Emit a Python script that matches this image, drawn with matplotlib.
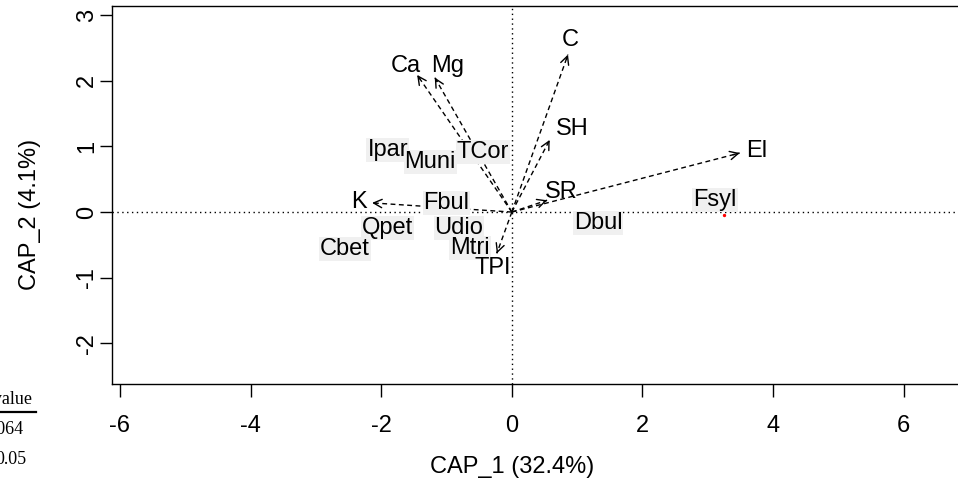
import matplotlib
matplotlib.use("Agg")
import matplotlib.pyplot as plt

plt.rcParams['font.family'] = ['Liberation Sans', 'DejaVu Sans']

# environmental vectors (arrow tips) and their label positions
env_names = ["Ca", "Mg", "C", "SH", "El", "SR", "K", "TPI"]
env_x = [-1.45, -1.18, 0.86, 0.58, 3.49, 0.54, -2.14, -0.23]
env_y = [2.09, 2.05, 2.40, 1.10, 0.90, 0.18, 0.14, -0.63]
env_lab_x = [-1.63, -0.98, 0.90, 0.92, 3.75, 0.76, -2.34, -0.29]
env_lab_y = [2.22, 2.22, 2.62, 1.27, 0.93, 0.30, 0.16, -0.86]

# species labels (drawn with grey background, on top of the arrows)
sp_names = ["Ipar", "Muni", "TCor", "Fbul", "Qpet", "Udio", "Mtri", "Cbet", "Dbul", "Fsyl"]
sp_x = [-1.90, -1.25, -0.44, -1.00, -1.90, -0.81, -0.64, -2.56, 1.32, 3.11]
sp_y = [0.95, 0.76, 0.92, 0.14, -0.24, -0.24, -0.55, -0.56, -0.17, 0.18]

# a site point peeking out from under a label
site_x = [3.25]
site_y = [-0.04]

x_ticks = [-6, -4, -2, 0, 2, 4, 6]
y_ticks = [-2, -1, 0, 1, 2, 3]

fig = plt.figure(figsize=(9.58, 4.88), dpi=100)
W, H = 958.0, 488.0
ax = fig.add_axes([112 / W, 1 - 384 / H, (969 - 112) / W, (384 - 6) / H])
ax.set_xlim(-6.122, 7.0)
ax.set_ylim(-2.62, 3.14)

# reference lines through origin
ax.axhline(0, color='black', lw=1.0, ls=(0, (1, 2.5)), zorder=1)
ax.axvline(0, color='black', lw=1.0, ls=(0, (1, 2.5)), zorder=1)

ax.scatter(site_x, site_y, s=2, color='red', zorder=2)

# env arrows: dashed shaft + small solid head
for name, x, y, lx, ly in zip(env_names, env_x, env_y, env_lab_x, env_lab_y):
    ax.plot([0, x], [0, y], color='black', lw=1.0, ls=(0, (3.5, 2.5)), zorder=3)
    ax.annotate('', xy=(x, y), xytext=(x * 0.97, y * 0.97),
                arrowprops=dict(arrowstyle='->,head_length=0.6,head_width=0.3',
                                color='black', lw=1.0, shrinkA=0, shrinkB=0),
                zorder=3)
    ax.text(lx, ly, name, fontsize=17, ha='center', va='center', zorder=5)

for name, x, y in zip(sp_names, sp_x, sp_y):
    ax.text(x, y, name, fontsize=17, ha='center', va='center', zorder=4,
            bbox=dict(boxstyle='square,pad=0.04', fc='#f0f0f0', ec='none'))

ax.set_xticks(x_ticks)
ax.set_xticklabels([str(t) for t in x_ticks])
ax.set_yticks(y_ticks)
ax.set_yticklabels([str(t) for t in y_ticks], rotation=90, va='center')
ax.tick_params(axis='both', length=9, width=1.0, labelsize=17)
ax.tick_params(axis='x', pad=13)
ax.tick_params(axis='y', pad=1)
for s in ax.spines.values():
    s.set_linewidth(1.0)

fig.text(512 / W, 1 - 467 / H, "CAP_1 (32.4%)", fontsize=17, ha='center', va='center')
fig.text(30 / W, 1 - 214 / H, "CAP_2 (4.1%)", fontsize=17, ha='center', va='center',
         rotation=90)

# fragment of a table cut off at the left edge
fig.text(33 / W, 1 - 399 / H, "p-value", family='Liberation Serif', fontsize=13,
         ha='right', va='center')
fig.add_artist(plt.Line2D([0, 36 / W], [1 - 412 / H, 1 - 412 / H], color='black', lw=1.6))
fig.text(24 / W, 1 - 429 / H, "0.064", family='Liberation Serif', fontsize=13,
         ha='right', va='center')
fig.text(27 / W, 1 - 459 / H, "0.05", family='Liberation Serif', fontsize=13,
         ha='right', va='center')

fig.savefig("out.png", dpi=100)
